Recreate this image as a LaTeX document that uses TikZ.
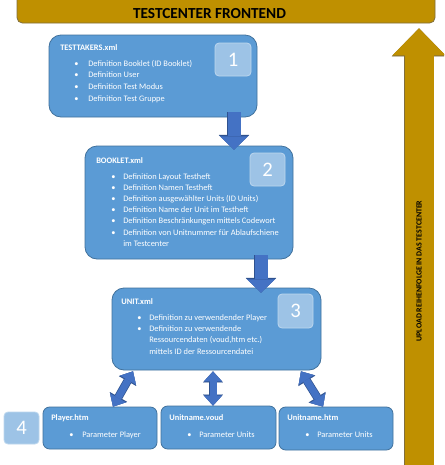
\documentclass[tikz,border=0pt]{standalone}
\usepackage{fontspec}
\setmainfont{Carlito}
\usetikzlibrary{arrows.meta,fit,calc}
\definecolor{boxfill}{RGB}{91,155,213}
\definecolor{boxline}{RGB}{65,113,156}
\definecolor{numfill}{RGB}{157,195,230}
\definecolor{numline}{RGB}{189,215,238}
\definecolor{arrfill}{RGB}{68,114,196}
\definecolor{arrline}{RGB}{47,82,143}
\definecolor{goldfill}{RGB}{191,144,0}
\definecolor{goldline}{RGB}{128,110,60}
\newcommand\bitem[2]{\makebox[#1][l]{\textbullet}#2}
\tikzset{
  bigbox/.style={draw=boxline, fill=boxfill, line width=0.6pt, rounded corners=9pt, inner sep=0pt},
  smallbox/.style={bigbox, rounded corners=5pt},
  numbox/.style={draw=numline, fill=numfill, line width=0.6pt, rounded corners=3pt, inner sep=0pt},
  numtxt/.style={text=white, font=\fontsize{15.5}{18}\selectfont, inner sep=0pt},
  titletxt/.style={text=white, font=\bfseries\fontsize{6.3}{8}\selectfont, inner sep=0pt, anchor=base west},
  itemtxt/.style={text=white, inner sep=0pt, anchor=base west},
  fatarrow/.style={draw=arrfill, line width=9.75pt,
    -{Triangle[width=21pt,length=10pt,line width=0.1pt]},
    preaction={draw=arrline, line width=10.95pt, -{Triangle[width=22.8pt,length=11pt,line width=0.1pt]}}},
  dblarrow/.style={draw=arrfill, line width=5.25pt,
    {Triangle[width=13.5pt,length=7.5pt,line width=0.1pt]}-{Triangle[width=13.5pt,length=7.5pt,line width=0.1pt]},
    preaction={draw=arrline, line width=6.3pt, {Triangle[width=14.9pt,length=8.3pt,line width=0.1pt]}-{Triangle[width=14.9pt,length=8.3pt,line width=0.1pt]}}},
  goldarrow/.style={draw=goldfill, line width=21.75pt,
    -{Triangle[width=39.75pt,length=20.25pt,line width=0.1pt]},
    preaction={draw=goldline, line width=22.6pt, -{Triangle[width=40.8pt,length=20.9pt,line width=0.1pt]}}},
}
\begin{document}
\begin{tikzpicture}[x=0.75pt,y=-0.75pt]
\useasboundingbox (0,0) rectangle (444,465);
\clip (0,0) rectangle (444,465);
\fill[white] (0,0) rectangle (444,465);

% helper x positions
\coordinate (xa) at (234,0);
\coordinate (xb) at (261,0);
\coordinate (xl1) at (133,0);
\coordinate (xl2) at (113,0);
\coordinate (xm) at (213,0);
\coordinate (xr1) at (301,0);
\coordinate (xr2) at (323,0);
\coordinate (xg) at (419,0);
\coordinate (gbot) at (419,475);

% banner
\node[fit={(17,-10) (435,23)}, fill=goldfill, draw=goldline, line width=0.6pt, rounded corners=4pt, inner sep=0pt] (banner) {};
\node[font=\bfseries\fontsize{11.5}{13}\selectfont, inner sep=0pt] (bannertxt) at (209.5,13.3) {TESTCENTER FRONTEND};

% upload arrow
\draw[goldarrow] (gbot) -- ($(banner.south -| xg)+(0,5)$);
\node[rotate=90, font=\bfseries\fontsize{5.9}{7}\selectfont, inner sep=0pt] (uploadtxt) at (419,271) {UPLOAD REIHENFOLGE IN DAS TESTCENTER};

% box 1
\node[bigbox, fit={(49,35) (257,117)}] (b1) {};
\node[numbox, fit={(215,43) (251,76)}] (n1) {};
\node[numtxt] (n1t) at (n1.center) {1};
\node[titletxt] (t1) at (60,50) {TESTTAKERS.xml};
\node[itemtxt, font=\fontsize{6.3}{8.75}\selectfont] (l1) at (74,66) {\begin{tabular}[t]{@{}l@{}}
\bitem{10.5pt}{Definition Booklet (ID Booklet)}\\
\bitem{10.5pt}{Definition User}\\
\bitem{10.5pt}{Definition Test Modus}\\
\bitem{10.5pt}{Definition Test Gruppe}
\end{tabular}};

% box 2
\node[bigbox, fit={(85,146) (293,259)}] (b2) {};
\node[numbox, fit={(250,153) (285,186)}] (n2) {};
\node[numtxt] (n2t) at (n2.center) {2};
\node[titletxt] (t2) at (96,163) {BOOKLET.xml};
\node[itemtxt, font=\fontsize{6.3}{8.4}\selectfont] (l2) at (111,179) {\begin{tabular}[t]{@{}l@{}}
\bitem{9pt}{Definition Layout Testheft}\\
\bitem{9pt}{Definition Namen Testheft}\\
\bitem{9pt}{Definition ausgewählter Units (ID Units)}\\
\bitem{9pt}{Definition Name der Unit im Testheft}\\
\bitem{9pt}{Definition Beschränkungen mittels Codewort}\\
\bitem{9pt}{Definition von Unitnummer für Ablaufschiene}\\
\makebox[9pt]{}im Testcenter
\end{tabular}};

% box 3
\node[bigbox, fit={(112,288) (321,370)}] (b3) {};
\node[numbox, fit={(278,294) (313,328)}] (n3) {};
\node[numtxt] (n3t) at (n3.center) {3};
\node[titletxt] (t3) at (121,304) {UNIT.xml};
\node[itemtxt, font=\fontsize{6.3}{8.5}\selectfont] (l3) at (137,320) {\begin{tabular}[t]{@{}l@{}}
\bitem{9pt}{Definition zu verwendender Player}\\
\bitem{9pt}{Definition zu verwendende}\\
\makebox[9pt]{}Ressourcendaten (voud,htm etc.)\\
\makebox[9pt]{}mittels ID der Ressourcendatei
\end{tabular}};

% bottom row
\node[numbox, fit={(4,412) (39,444)}] (n4) {};
\node[numtxt] (n4t) at (n4.center) {4};

\node[smallbox, fit={(43,407) (157,449)}] (p1) {};
\node[titletxt] (pt1) at (51,420) {Player.htm};
\node[itemtxt, font=\fontsize{6.3}{8.5}\selectfont] (pl1) at (69,437.5) {\bitem{9.75pt}{Parameter Player}};

\node[smallbox, fit={(161,406) (276,449)}] (p2) {};
\node[titletxt] (pt2) at (169,420) {Unitname.voud};
\node[itemtxt, font=\fontsize{6.3}{8.5}\selectfont] (pl2) at (187,437.5) {\bitem{9pt}{Parameter Units}};

\node[smallbox, fit={(279,407) (393,450)}] (p3) {};
\node[titletxt] (pt3) at (287,420) {Unitname.htm};
\node[itemtxt, font=\fontsize{6.3}{8.5}\selectfont] (pl3) at (305,437.5) {\bitem{9pt}{Parameter Units}};

% arrows
\draw[fatarrow] ($(b1.south -| xa)+(0,-5)$) -- ($(b2.north -| xa)+(0,4)$);
\draw[fatarrow] ($(b2.south -| xb)+(0,-4)$) -- ($(b3.north -| xb)+(0,5)$);
\draw[dblarrow] ($(b3.south -| xl1)+(0,1)$) -- (p1.north -| xl2);
\draw[dblarrow] ($(b3.south -| xm)+(0,1)$) -- (p2.north -| xm);
\draw[dblarrow] ($(b3.south -| xr1)+(0,1)$) -- (p3.north -| xr2);
\end{tikzpicture}
\end{document}
